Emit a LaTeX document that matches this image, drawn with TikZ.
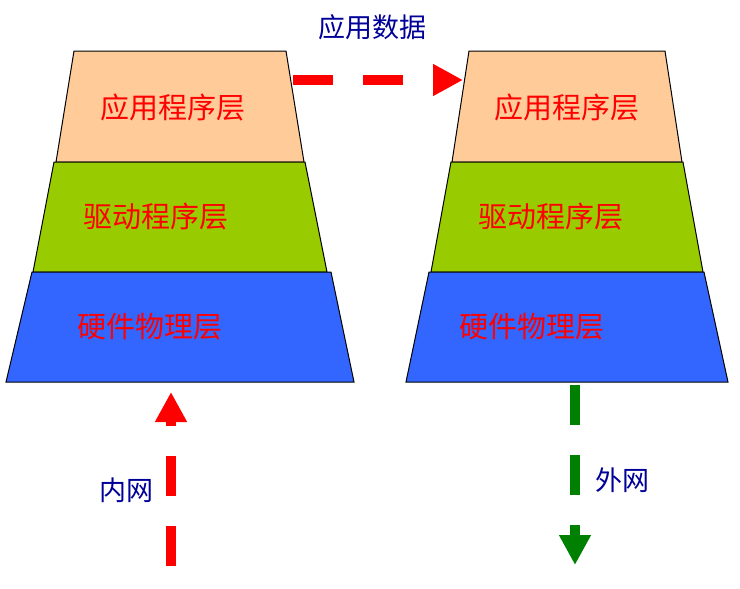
\documentclass[tikz,border=0pt]{standalone}
\usepackage{fontspec}
\setmainfont{Noto Sans CJK SC}
\usepackage{xcolor}
\definecolor{peach}{RGB}{255,204,153}
\definecolor{lime}{RGB}{153,204,0}
\definecolor{royal}{RGB}{51,102,255}
\definecolor{navy}{RGB}{0,0,153}
\definecolor{leaf}{RGB}{0,128,0}
\usetikzlibrary{arrows.meta}

\begin{document}
\begin{tikzpicture}[
  x=1pt, y=-1pt,
  layer/.style={draw=black, line width=1pt},
  layertext/.style={font=\fontsize{29}{29}\selectfont, text=red, inner sep=0pt},
  note/.style={font=\fontsize{27}{27}\selectfont, text=navy, inner sep=0pt},
  flow/.style={line width=10pt, dash pattern=on 40pt off 30pt,
               -{Triangle[length=30pt,width=30pt]}},
]
  \useasboundingbox (0,0) rectangle (740,589);

  %% sending side
  \filldraw[layer, fill=peach] (74,51) -- (286,51) -- (304,162) -- (56,162) -- cycle;
  \filldraw[layer, fill=lime]  (54,162) -- (305,162) -- (327,272) -- (33,272) -- cycle;
  \filldraw[layer, fill=royal] (32,272) -- (331,272) -- (354,382) -- (6,382) -- cycle;
  \node[layertext] (la) at (173,107) {应用程序层};
  \node[layertext] (ld) at (156,217) {驱动程序层};
  \node[layertext] (lh) at (150,327) {硬件物理层};

  %% receiving side
  \filldraw[layer, fill=peach] (469,51) -- (665,51) -- (682,162) -- (452,162) -- cycle;
  \filldraw[layer, fill=lime]  (451,162) -- (683,162) -- (703,272) -- (431,272) -- cycle;
  \filldraw[layer, fill=royal] (429,272) -- (704,272) -- (728,382) -- (406,382) -- cycle;
  \node[layertext] (ra) at (567,107) {应用程序层};
  \node[layertext] (rd) at (551,217) {驱动程序层};
  \node[layertext] (rh) at (532,327) {硬件物理层};

  %% labels
  \node[note] (data) at (372,27) {应用数据};
  \node[note] (inner) at (126,490) {内网};
  \node[note] (outer) at (622,480) {外网};

  %% flows
  \coordinate (appout) at (293,80);
  \coordinate (appin)  at (463,80);
  \coordinate (lanin)  at (171,566);
  \coordinate (lanup)  at (171,392);
  \coordinate (wanout) at (575,385);
  \coordinate (wanend) at (575,565);
  \draw[flow, red]  (appout) -- (appin);
  \draw[flow, red]  (lanin) -- (lanup);
  \draw[flow, leaf] (wanout) -- (wanend);
\end{tikzpicture}
\end{document}
